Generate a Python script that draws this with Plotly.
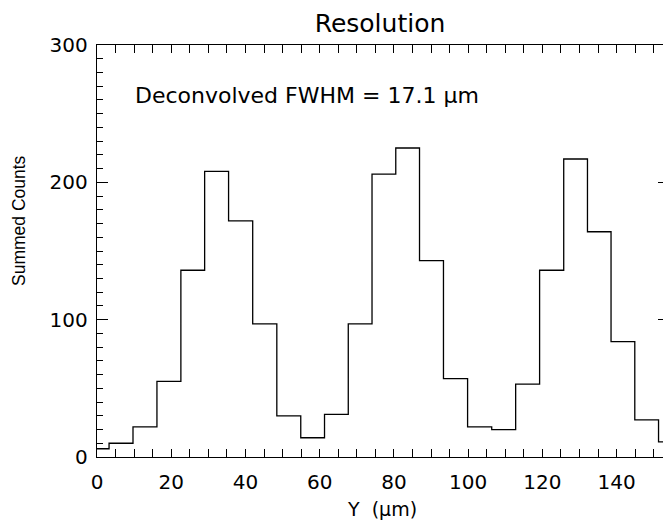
import plotly.graph_objects as go

# Bin centres (Y, µm) and summed counts
bin_centers = [0, 6.5, 12.9, 19.4, 25.8, 32.2, 38.7, 45.2, 51.7, 58.1, 64.5, 70.9,
               77.3, 83.7, 90.1, 96.6, 103.1, 109.6, 116.0, 122.5, 129.0, 135.3,
               141.7, 148.1, 154.5]
summed_counts = [6, 10, 22, 55, 136, 208, 172, 97, 30, 14, 31, 97,
                 206, 225, 143, 57, 22, 20, 53, 136, 217, 164, 84, 27, 11]

x_ticks = [0, 20, 40, 60, 80, 100, 120, 140]
y_ticks = [0, 100, 200, 300]

FONT = "DejaVu Sans"

fig = go.Figure()
fig.add_trace(go.Scatter(
    x=bin_centers, y=summed_counts, mode="lines",
    line=dict(shape="hvh", color="black", width=1.3),
    showlegend=False, hoverinfo="skip"))

# invisible trace to drive right-side tick stubs
fig.add_trace(go.Scatter(x=[None], y=[None], yaxis="y2", showlegend=False))

fig.update_layout(
    width=663, height=520,
    margin=dict(l=97, r=0, t=45, b=63),
    paper_bgcolor="white", plot_bgcolor="white",
    font=dict(family=FONT, color="black", size=20),
    title=dict(text="Resolution", x=0.5, xref="paper", xanchor="center",
               y=1 - 23 / 520, yref="container", yanchor="middle",
               font=dict(family=FONT, size=25, color="black")),
    xaxis=dict(range=[0, 152.5], tickvals=x_ticks, ticktext=[str(v) for v in x_ticks],
               ticks="inside", ticklen=8, tickwidth=1.2, tickcolor="black",
               showline=True, linecolor="black", linewidth=1.4, mirror="allticks",
               showgrid=False, zeroline=False, ticklabelstandoff=7,
               tickfont=dict(family=FONT, size=20, color="black"),
               minor=dict(dtick=5, ticks="inside", ticklen=4, tickcolor="black",
                          tickwidth=1, showgrid=False)),
    yaxis=dict(range=[0, 300], tickvals=y_ticks, ticktext=[str(v) for v in y_ticks],
               ticks="inside", ticklen=11, tickwidth=1.2, tickcolor="black",
               showline=True, linecolor="black", linewidth=1.4, mirror=False,
               showgrid=False, zeroline=False, ticklabelstandoff=4,
               tickfont=dict(family=FONT, size=20, color="black"),
               minor=dict(dtick=10, ticks="inside", ticklen=6, tickcolor="black",
                          tickwidth=1, showgrid=False)),
    yaxis2=dict(range=[0, 300], overlaying="y", side="right", tickvals=y_ticks,
                showticklabels=False, ticks="inside", ticklen=5, tickwidth=1.2,
                tickcolor="black", showline=False, showgrid=False, zeroline=False),
    annotations=[
        dict(text="Deconvolved FWHM = 17.1 \u03bcm", x=9.6, y=263, xref="x", yref="y",
             xanchor="left", yanchor="middle", showarrow=False,
             font=dict(family=FONT, size=22, color="black")),
        dict(text="Summed Counts", x=(19 - 97) / 566, y=(457 - 221) / 412,
             xref="paper", yref="paper", xanchor="center", yanchor="middle",
             textangle=-90, showarrow=False,
             font=dict(family="Liberation Sans", size=17.5, color="black")),
        dict(text="Y\u00a0\u00a0(\u03bcm)", x=(381.7 - 97) / 566, y=(457 - 509) / 412,
             xref="paper", yref="paper", xanchor="center", yanchor="middle",
             showarrow=False, font=dict(family=FONT, size=19, color="black")),
    ],
)

fig.write_html("out.html", config={"displayModeBar": False},
               post_script="document.body.style.margin='0';")
